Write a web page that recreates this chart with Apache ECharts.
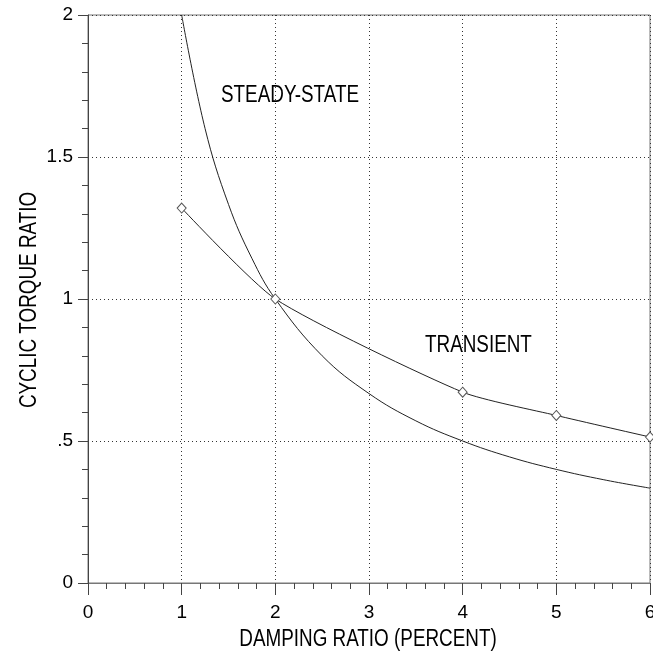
<!DOCTYPE html>
<html><head><meta charset="utf-8">
<script src="https://cdn.jsdelivr.net/npm/echarts@6/dist/echarts.min.js"></script>
<style>html,body{margin:0;padding:0;background:#fff}#c{width:653px;height:660px}</style>
</head><body><div id="c"></div>
<script>
var steadyX = [1, 1.25, 1.5, 1.75, 2, 2.5, 3, 3.5, 4, 4.5, 5, 5.5, 6];
var steadyY = [2, 1.6, 1.333, 1.143, 1, 0.8, 0.667, 0.571, 0.5, 0.444, 0.4, 0.364, 0.334];
var transX = [1, 2, 4, 5, 6];
var transY = [1.32, 1.0, 0.672, 0.59, 0.514];
var xTicks = [0, 1, 2, 3, 4, 5, 6];
var yTickLabels = {0: '0', 0.5: '.5', 1: '1', 1.5: '1.5', 2: '2'};
var xTitle = 'DAMPING RATIO (PERCENT)';
var yTitle = 'CYCLIC TORQUE RATIO';
var steadyLabel = 'STEADY-STATE';
var transLabel = 'TRANSIENT';

var font = '"Liberation Sans", Arial, sans-serif';
var narrow = 0.82;
var chart = echarts.init(document.getElementById('c'));
chart.setOption({
  animation: false,
  backgroundColor: '#fff',
  grid: {left: 88, right: 3, top: 15, bottom: 77, containLabel: false, outerBoundsMode: 'none',
    show: true, borderColor: '#777', borderWidth: 1},
  xAxis: {
    type: 'value', min: 0, max: 6, interval: 1,
    axisLine: {show: true, onZero: false, lineStyle: {color: '#777', width: 1}},
    axisTick: {show: true, inside: false, length: 12, lineStyle: {color: '#444'}},
    minorTick: {show: true, splitNumber: 5, length: 6, lineStyle: {color: '#444'}},
    axisLabel: {fontFamily: font, fontSize: 19, color: '#000', margin: 20, hideOverlap: false,
      showMinLabel: true, showMaxLabel: true,
      formatter: function (v) { return xTicks.indexOf(v) >= 0 ? String(v) : ''; }},
    splitLine: {show: true, lineStyle: {color: '#333', type: [1, 3], width: 1}}
  },
  yAxis: {
    type: 'value', min: 0, max: 2, interval: 0.5,
    axisLine: {show: true, onZero: false, lineStyle: {color: '#444', width: 1}},
    axisTick: {show: true, inside: false, length: 10, lineStyle: {color: '#444'}},
    minorTick: {show: true, splitNumber: 5, length: 6, lineStyle: {color: '#444'}},
    axisLabel: {fontFamily: font, fontSize: 19, color: '#000', margin: 15,
      showMinLabel: true, showMaxLabel: true,
      formatter: function (v) { var k = Math.round(v * 10) / 10; return yTickLabels[k] !== undefined ? yTickLabels[k] : ''; }},
    splitLine: {show: true, lineStyle: {color: '#333', type: [1, 3], width: 1}}
  },
  series: [
    {
      name: steadyLabel, type: 'line', smooth: 0.4, showSymbol: false, symbol: 'none',
      data: steadyX.map(function (x, i) { return [x, steadyY[i]]; }),
      lineStyle: {color: '#222', width: 1}, z: 3
    },
    {
      name: transLabel, type: 'line', smooth: 0.2,
      symbol: 'diamond', symbolSize: [9, 10], showSymbol: true,
      itemStyle: {color: '#fff', borderColor: '#555', borderWidth: 1},
      data: transX.map(function (x, i) { return [x, transY[i]]; }),
      lineStyle: {color: '#222', width: 1}, z: 4
    }
  ],
  graphic: [
    {type: 'text', x: 221, y: 96, scaleX: narrow,
      style: {text: steadyLabel, font: '23px ' + font, fill: '#000', align: 'left', verticalAlign: 'middle'}},
    {type: 'text', x: 425, y: 346, scaleX: narrow,
      style: {text: transLabel, font: '23px ' + font, fill: '#000', align: 'left', verticalAlign: 'middle'}},
    {type: 'text', x: 368, y: 640, scaleX: narrow,
      style: {text: xTitle, font: '23px ' + font, fill: '#000', align: 'center', verticalAlign: 'middle'}},
    {type: 'text', x: 30, y: 300, scaleX: narrow, rotation: Math.PI / 2,
      style: {text: yTitle, font: '23px ' + font, fill: '#000', align: 'center', verticalAlign: 'middle'}}
  ]
});
</script></body></html>
